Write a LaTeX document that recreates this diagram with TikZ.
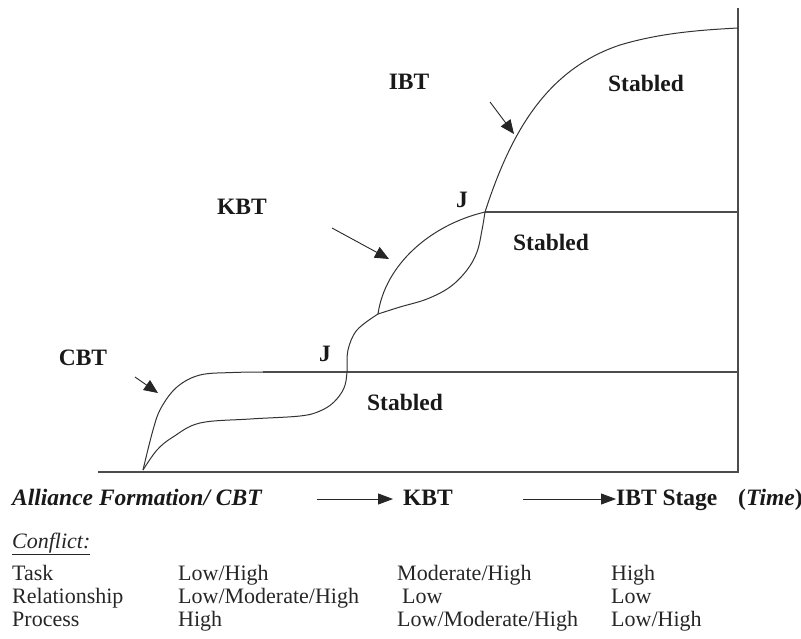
\documentclass[tikz,border=0pt]{standalone}
\usepackage{fontspec}
\setmainfont{Liberation Serif}
\usetikzlibrary{arrows.meta}
\begin{document}
\begin{tikzpicture}[x=1pt,y=-1pt,
  curve/.style={line width=1pt,draw=black!80},
  axis/.style={line width=1.1pt,draw=black!70},
  pointer/.style={line width=0.9pt,draw=black!85,-{Triangle[length=14pt,width=12pt]}},
  stagearrow/.style={line width=0.9pt,draw=black!85,-{Triangle[length=15pt,width=11pt]}},
  lbl/.style={font=\fontsize{23.5}{26}\selectfont\bfseries,text=black!90,inner sep=0pt},
  tbl/.style={font=\fontsize{22}{24}\selectfont,text=black!85,inner sep=0pt,anchor=base west},
  ttl/.style={font=\fontsize{23.5}{26}\selectfont\bfseries,text=black!90,inner sep=0pt,anchor=base west}]
\useasboundingbox (0,0) rectangle (801,638);

% axes and stable lines
\coordinate (o) at (98,472);
\coordinate (br) at (738,472);
\coordinate (tr) at (738,8);
\draw[axis] (o) -- (br) -- (tr);
\coordinate (c1) at (263,372);
\coordinate (c1e) at (738,372);
\draw[axis] (c1) -- (c1e);
\coordinate (k1) at (485,212);
\coordinate (k1e) at (738,212);
\draw[axis] (k1) -- (k1e);

% CBT upper
\draw[curve] plot[smooth,tension=0.6] coordinates {(143,470) (153,430) (161,408) (177,387) (200,375) (233,372.5) (263,372)};
% CBT lower and rise to KBT branch
\draw[curve] plot[smooth,tension=0.6] coordinates {(143,470) (157,450) (173,437) (200,423) (250,419) (300,416) (320,411) (334,402) (344,388) (347,372) (348,350) (357,330) (378,314)};
% KBT upper
\coordinate (kb0) at (378,314);
\draw[curve] (kb0) .. controls (385,265) and (430,225) .. (k1);
% KBT lower
\draw[curve] plot[smooth,tension=0.6] coordinates {(378,314) (400,307) (427,299) (450,287) (467,270) (477,252) (482,230) (485,212)};
% IBT
\coordinate (ib0) at (620,45);
\coordinate (ib1) at (738,28);
\draw[curve] (k1) .. controls (510,135) and (545,70) .. (ib0) .. controls (660,33) and (700,30) .. (ib1);

% labels
\node[lbl] (ibt) at (409,82) {IBT};
\node[lbl] (st3) at (646,83) {Stabled};
\node[lbl] (kbt) at (242,207) {KBT};
\node[lbl] (j2) at (462,200) {J};
\node[lbl] (st2) at (551,242) {Stabled};
\node[lbl] (cbt) at (83,358) {CBT};
\node[lbl] (j1) at (325,354) {J};
\node[lbl] (st1) at (405,402) {Stabled};

% pointer arrows
\coordinate (a1s) at (135,377); \coordinate (a1e) at (158,393);
\draw[pointer] (a1s) -- (a1e);
\coordinate (a2s) at (332,228); \coordinate (a2e) at (389,259);
\draw[pointer] (a2s) -- (a2e);
\coordinate (a3s) at (490,102); \coordinate (a3e) at (514,134);
\draw[pointer] (a3s) -- (a3e);

% bottom stage line
\node[ttl] (af) at (12,505) {\itshape Alliance Formation/ CBT};
\node[ttl] (kb) at (403,505) {KBT};
\node[ttl] (ib) at (616,505) {IBT Stage};
\node[ttl] (tm) at (738,505) {(\textit{Time})};
\coordinate (s1) at (317,499);
\coordinate (s1e) at (393,499);
\draw[stagearrow] (s1) -- (s1e);
\coordinate (s2) at (523,499);
\draw[stagearrow] (s2) -- (ib.west |- s2);

% conflict table
\node[tbl] (cf) at (12,548) {\textit{\underline{Conflict:}}};
\node[tbl] (r1) at (12,580) {Task};
\node[tbl] (r2) at (12,603) {Relationship};
\node[tbl] (r3) at (12,626) {Process};
\node[tbl] (r1a) at (178,580) {Low/High};
\node[tbl] (r2a) at (178,603) {Low/Moderate/High};
\node[tbl] (r3a) at (178,626) {High};
\node[tbl] (r1b) at (397,580) {Moderate/High};
\node[tbl] (r2b) at (402,603) {Low};
\node[tbl] (r3b) at (397,626) {Low/Moderate/High};
\node[tbl] (r1c) at (611,580) {High};
\node[tbl] (r2c) at (611,603) {Low};
\node[tbl] (r3c) at (611,626) {Low/High};
\end{tikzpicture}
\end{document}
